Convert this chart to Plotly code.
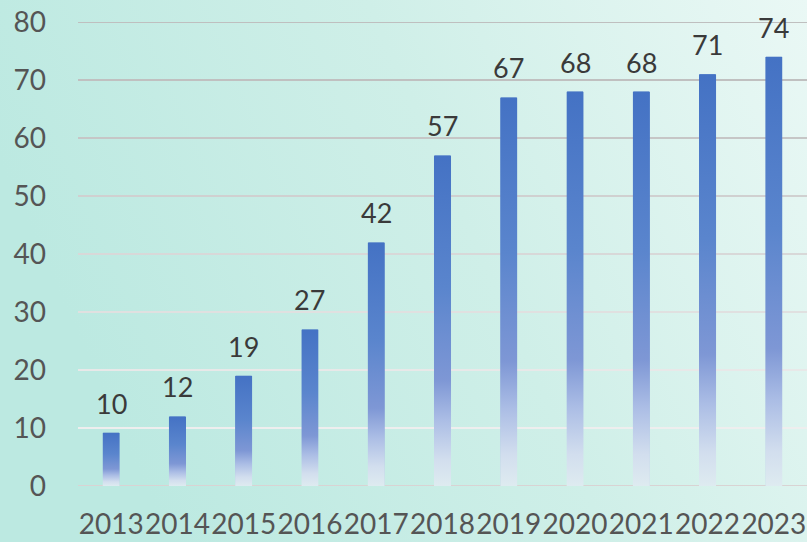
import base64
import plotly.graph_objects as go

# ---- data ----
years = [2013, 2014, 2015, 2016, 2017, 2018, 2019, 2020, 2021, 2022, 2023]
values = [9.2, 12, 19, 27, 42, 57, 67, 68, 68, 71, 74]
labels = ["10", "12", "19", "27", "42", "57", "67", "68", "68", "71", "74"]
y_ticks = [0, 10, 20, 30, 40, 50, 60, 70, 80]

# ---- styles ----
BAR_BLUE = "#4472c4"
BAR_FRAC = 0.24
grid_style = {0: "#d9d3d3", 10: "#eeeeee", 20: "#e8e8e8", 30: "#e0e0e0",
              40: "#d8d8d8", 50: "#d0d0d0", 60: "#c6c6c6", 70: "#c0c0c0",
              80: "#bfbfbf"}


def svg_uri(svg):
    return "data:image/svg+xml;base64," + base64.b64encode(svg.encode()).decode()


bar_grad = svg_uri(
    '<svg xmlns="http://www.w3.org/2000/svg" width="20" height="200" '
    'preserveAspectRatio="none"><defs><linearGradient id="g" x1="0" y1="0" '
    'x2="0" y2="1"><stop offset="0" stop-color="#4472c4"/>'
    '<stop offset="0.4" stop-color="#5a85cd"/>'
    '<stop offset="0.68" stop-color="#7e97d5"/>'
    '<stop offset="0.8" stop-color="#abbde5"/>'
    '<stop offset="0.92" stop-color="#d2deee"/>'
    '<stop offset="1" stop-color="#deebf0"/></linearGradient></defs>'
    '<rect width="20" height="200" fill="url(#g)"/></svg>')

bg_grad = svg_uri(
    '<svg xmlns="http://www.w3.org/2000/svg" width="200" height="200" '
    'preserveAspectRatio="none"><defs><linearGradient id="b" x1="0" y1="0.3" '
    'x2="1" y2="0"><stop offset="0" stop-color="#bce9e1"/>'
    '<stop offset="0.5" stop-color="#cfefe8"/>'
    '<stop offset="1" stop-color="#eaf8f5"/></linearGradient></defs>'
    '<rect width="200" height="200" fill="url(#b)"/></svg>')

W, H = 807, 542
ML, MR, MT, MB = 78, 0, 22, 56
PW, PH = W - ML - MR, H - MT - MB

fig = go.Figure()
fig.add_trace(go.Bar(
    x=years, y=values, marker=dict(color=BAR_BLUE, line=dict(width=0)),
    hoverinfo="x+y", showlegend=False,
))

images = [dict(source=bg_grad, xref="paper", yref="paper",
               x=-ML / PW, y=1 + MT / PH, sizex=W / PW, sizey=H / PH,
               xanchor="left", yanchor="top", sizing="stretch", layer="below")]
for yr, v in zip(years, values):
    images.append(dict(source=bar_grad, xref="x", yref="y",
                       x=yr, y=v, sizex=BAR_FRAC + 0.02, sizey=v,
                       xanchor="center", yanchor="top", sizing="stretch",
                       layer="above"))

shapes = [dict(type="line", xref="paper", yref="y", x0=0, x1=1, y0=t, y1=t,
               line=dict(color=grid_style[t], width=2), layer="below")
          for t in y_ticks]

annotations = [dict(x=yr, y=v, text=lab, showarrow=False, yanchor="bottom",
                    yshift=11, font=dict(family="Lato", size=27, color="#3a3a3a"))
               for yr, v, lab in zip(years, values, labels)]

fig.update_layout(
    width=W, height=H,
    margin=dict(l=ML, r=MR, t=MT, b=MB, pad=0, autoexpand=False),
    paper_bgcolor="rgba(0,0,0,0)", plot_bgcolor="rgba(0,0,0,0)",
    bargap=1 - BAR_FRAC,
    images=images, shapes=shapes, annotations=annotations,
    font=dict(family="Lato", color="#595959"),
    xaxis=dict(range=[years[0] - 0.5, years[-1] + 0.5], tickvals=years,
               ticktext=[str(y) for y in years], showgrid=False, zeroline=False,
               showline=False, tickfont=dict(size=28, color="#555555"),
               tickangle=0, automargin=False,
               ticklabelstandoff=19, fixedrange=True),
    yaxis=dict(range=[0, 80], tickvals=y_ticks, showgrid=False, zeroline=False,
               showline=False, tickfont=dict(size=28, color="#555555"),
               automargin=False,
               ticklabelstandoff=31, fixedrange=True),
)

fig.write_html("out.html", config={"displayModeBar": False},
               post_script="document.body.style.margin='0';"
                           "document.body.style.padding='0';")
